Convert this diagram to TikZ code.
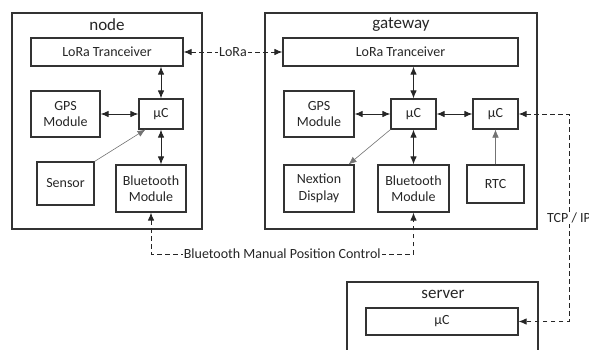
\documentclass[tikz,border=0pt]{standalone}
\usepackage{fontspec}
\setmainfont{Carlito}
\usetikzlibrary{arrows.meta}

\begin{document}
\begin{tikzpicture}[x=1pt, y=-1pt,
  part/.style={draw=black!80, line width=1.1pt, inner sep=0pt, align=center,
    text=black!85, font=\fontsize{14}{16.5}\selectfont},
  unit/.style={draw=black!80, line width=1.1pt, inner sep=0pt},
  title/.style={text=black!85, font=\fontsize{17}{20}\selectfont, inner sep=0pt},
  tip/.style={-{Latex[length=8pt,width=6.5pt]}},
  both/.style={{Latex[length=8pt,width=6.5pt]}-{Latex[length=8pt,width=6.5pt]}, line width=1pt, black!85},
  thin/.style={tip, line width=0.6pt, black!55},
  link/.style={both, dash pattern=on 4.5pt off 3.5pt},
  linklabel/.style={fill=white, inner sep=1pt, text=black!85, font=\fontsize{14}{16}\selectfont}
]
\useasboundingbox (0,0) rectangle (589,349);
\clip (0,0) rectangle (589,349);

% ---- end device ----
\node[unit, minimum width=190pt, minimum height=216pt] (node) at (107,121) {};
\node[title] (nodetitle) at (107,25) {node};
\node[part, minimum width=152pt, minimum height=28pt] (nlora) at (107,52) {LoRa Tranceiver};
\node[part, minimum width=69pt, minimum height=46pt] (ngps) at (65.5,114) {GPS\\Module};
\node[part, minimum width=44pt, minimum height=30pt] (nuc) at (161,114) {µC};
\node[part, minimum width=57pt, minimum height=43pt] (nsens) at (65.5,183.5) {Sensor};
\node[part, minimum width=70pt, minimum height=47pt] (nbt) at (151,188.5) {Bluetooth\\Module};

\draw[both] (nuc.north |- nlora.south) -- (nuc.north);
\draw[both] (ngps.east |- nuc.west) -- (nuc.west);
\draw[both] (nuc.south) -- (nuc.south |- nbt.north);
\draw[thin] (nsens.north east) -- ([xshift=7pt]nuc.south west);

% ---- gateway ----
\node[unit, minimum width=272pt, minimum height=216pt] (gw) at (401,121) {};
\node[title] (gwtitle) at (401,25) {gateway};
\node[part, minimum width=235pt, minimum height=28pt] (glora) at (400.5,52) {LoRa Tranceiver};
\node[part, minimum width=70pt, minimum height=46pt] (ggps) at (319,114) {GPS\\Module};
\node[part, minimum width=45pt, minimum height=30pt] (guc) at (413.5,114) {µC};
\node[part, minimum width=45pt, minimum height=30pt] (guc2) at (495.5,114) {µC};
\node[part, minimum width=70pt, minimum height=47pt] (gnex) at (319,188.5) {Nextion\\Display};
\node[part, minimum width=71pt, minimum height=47pt] (gbt) at (413.5,188.5) {Bluetooth\\Module};
\node[part, minimum width=57pt, minimum height=38pt] (grtc) at (495.5,184) {RTC};

\draw[both] (guc.north |- glora.south) -- (guc.north);
\draw[both] (ggps.east |- guc.west) -- (guc.west);
\draw[both] (guc.east) -- (guc2.west);
\draw[both] (guc.south) -- (guc.south |- gbt.north);
\draw[thin] (guc.south west) -- ([xshift=-6pt]gnex.north east);
\draw[thin] (grtc.north) -- (guc2.south);

% ---- server ----
\node[unit, minimum width=191pt, minimum height=100pt] (srv) at (442.5,332) {};
\node[title] (srvtitle) at (443,294) {server};
\node[part, minimum width=152pt, minimum height=27pt] (suc) at (442,321.5) {µC};

% ---- wireless and network links ----
\draw[link] (nlora.east) -- node[linklabel] {LoRa} (glora.west);

\coordinate (btlow) at (0,254);
\draw[link] (nbt.south) -- (nbt.south |- btlow) -- node[linklabel] {Bluetooth Manual Position Control} (gbt.south |- btlow) -- (gbt.south);

\coordinate (tcpx) at (569,0);
\draw[link] (guc2.east) -- (guc2.east -| tcpx) -- node[linklabel] {TCP / IP} (suc.east -| tcpx) -- (suc.east);
\end{tikzpicture}
\end{document}
